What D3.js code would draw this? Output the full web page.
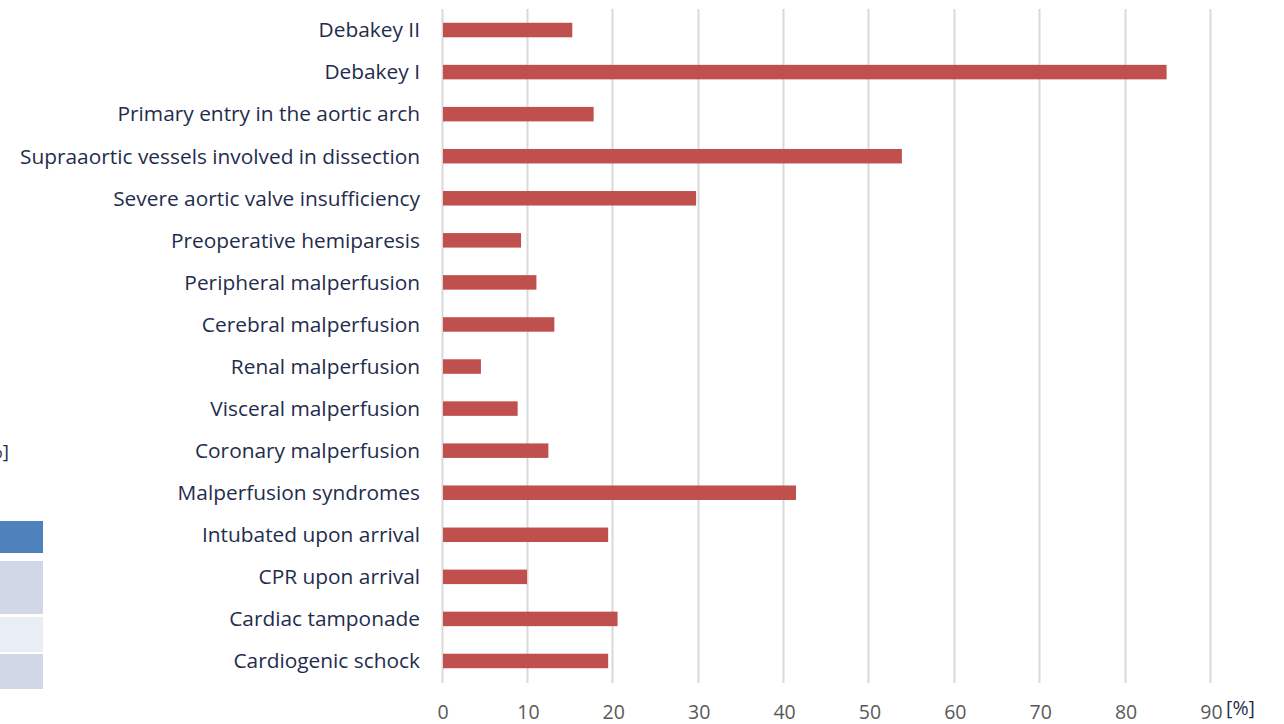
<!DOCTYPE html>
<html>
<head>
<meta charset="utf-8">
<script src="https://cdn.jsdelivr.net/npm/d3@7"></script>
<style>
  body { margin: 0; background: #fff; }
  svg { display: block; font-family: "Open Sans", Lato, sans-serif; }
</style>
</head>
<body>
<svg width="1284" height="724"></svg>
<script>
// categories, top to bottom
var categories = [
    "Debakey II",
    "Debakey I",
    "Primary entry in the aortic arch",
    "Supraaortic vessels involved in dissection",
    "Severe aortic valve insufficiency",
    "Preoperative hemiparesis",
    "Peripheral malperfusion",
    "Cerebral malperfusion",
    "Renal malperfusion",
    "Visceral malperfusion",
    "Coronary malperfusion",
    "Malperfusion syndromes",
    "Intubated upon arrival",
    "CPR upon arrival",
    "Cardiac tamponade",
    "Cardiogenic schock"
];
// percent values
var values = [15.2, 84.8, 17.7, 53.8, 29.7, 9.2, 11.0, 13.1, 4.5, 8.8, 12.4, 41.4, 19.4, 9.9, 20.5, 19.4];
var ticks = [0, 10, 20, 30, 40, 50, 60, 70, 80, 90];

var svg = d3.select("svg");

//	leftover piece of a neighbouring table on the far left
var stubColors = ["#4F81BD", "#D0D8E8", "#E9EDF4", "#D0D8E8"];
var stubRows = [[521, 553], [561, 614], [617, 652], [654, 689]];
svg.append("g").selectAll("rect")
        .data(stubRows)
        .enter().append("rect")
        .attr("x", 0)
        .attr("y", function (d) { return d[0]; })
        .attr("width", 43)
        .attr("height", function (d) { return d[1] - d[0]; })
        .attr("fill", function (d, i) { return stubColors[i]; });
svg.append("text")
        .attr("x", 9)
        .attr("y", 458)
        .attr("text-anchor", "end")
        .attr("font-size", 19)
        .attr("fill", "#1F2D4D")
        .text("[%]");

//	scales
var x = d3.scaleLinear().domain([0, 90]).range([442.5, 1211]);
var y = d3.scaleBand().domain(categories).range([9, 682]).paddingInner(0.655).paddingOuter(0.3275);

//	grid
svg.append("g").selectAll("line")
        .data(ticks)
        .enter().append("line")
        .attr("x1", function (d) { return Math.round(x(d)) - 0.5; })
        .attr("x2", function (d) { return Math.round(x(d)) - 0.5; })
        .attr("y1", 9)
        .attr("y2", 683)
        .attr("stroke", "#D9D9D9")
        .attr("stroke-width", 2);

//	bars
svg.append("g").selectAll("rect")
        .data(values)
        .enter().append("rect")
        .attr("x", x(0) + 0.5)
        .attr("y", function (d, i) { return y(categories[i]); })
        .attr("width", function (d) { return x(d) - x(0) - 0.5; })
        .attr("height", y.bandwidth())
        .attr("fill", "#C0504D");

//	category labels
var labels = svg.append("g").selectAll("text")
        .data(categories)
        .enter().append("text")
        .attr("x", 420)
        .attr("y", function (d) { return y(d) + y.bandwidth() / 2; })
        .attr("dy", "0.35em")
        .attr("text-anchor", "end")
        .attr("font-size", 19)
        .attr("fill", "#1F2D4D")
        .text(function (d) { return d; });
// fit the longest label to the width it has in the original (about 400px)
var widest = d3.max(labels.nodes(), function (n) { return n.getComputedTextLength(); });
labels.attr("font-size", 19 * 400 / widest);

//	x axis
var xAxis = svg.append("g")
        .attr("transform", "translate(0,683)")
        .call(d3.axisBottom(x).tickValues(ticks).tickSize(0).tickPadding(0));
xAxis.select(".domain").remove();
xAxis.selectAll("text")
        .attr("font-family", "'Open Sans', Lato, sans-serif")
        .attr("font-size", 19.5)
        .attr("dy", null)
        .attr("y", 36)
        .attr("fill", "#595959");

svg.append("text")
        .attr("x", 1226)
        .attr("y", 715)
        .attr("font-size", 19.5)
        .attr("fill", "#1F2D4D")
        .text("[%]");
</script>
</body>
</html>
